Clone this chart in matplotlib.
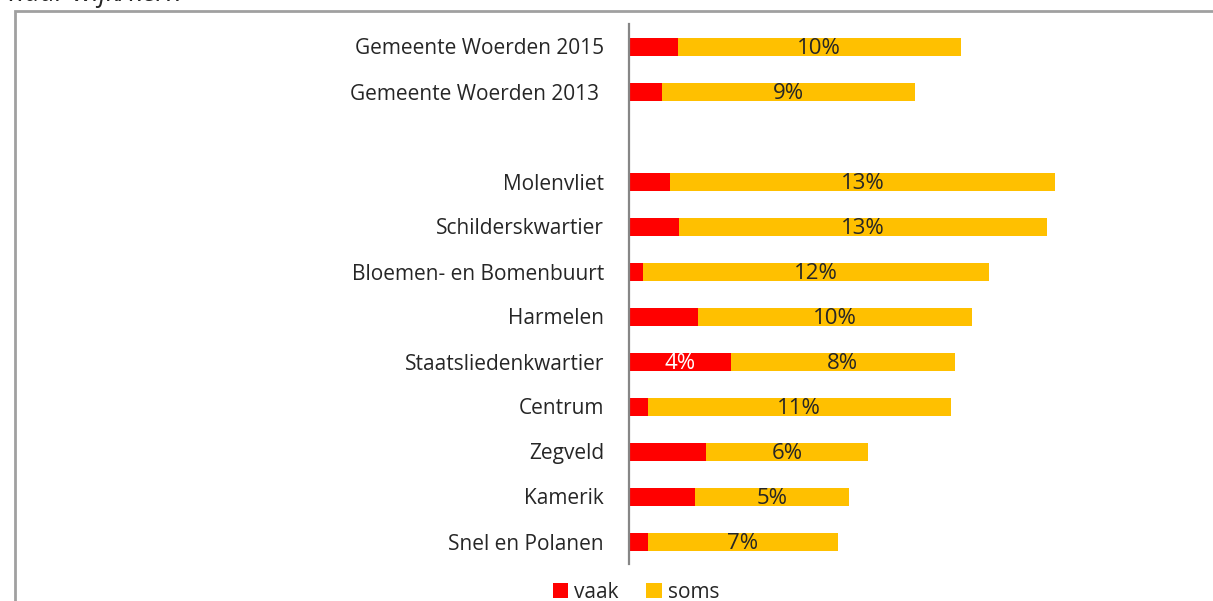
import matplotlib.pyplot as plt
from matplotlib.patches import Rectangle
import numpy as np

plt.rcParams["font.family"] = ["Open Sans", "DejaVu Sans"]

# rows from top to bottom, blank row separates the totals from the districts
categories = ["Gemeente Woerden 2015", "Gemeente Woerden 2013 ", "",
              "Molenvliet", "Schilderskwartier", "Bloemen- en Bomenbuurt",
              "Harmelen", "Staatsliedenkwartier", "Centrum", "Zegveld",
              "Kamerik", "Snel en Polanen"]
vaak = [1.7, 1.15, 0, 1.45, 1.75, 0.5, 2.4, 3.55, 0.65, 2.7, 2.3, 0.65]
soms = [9.9, 8.85, 0, 13.45, 12.85, 12.1, 9.6, 7.85, 10.6, 5.65, 5.4, 6.65]
vaak_labels = ["", "", "", "", "", "", "", "4%", "", "", "", ""]
soms_labels = ["10%", "9%", "", "13%", "13%", "12%", "10%", "8%", "11%",
               "6%", "5%", "7%"]

red = "#FF0000"
gold = "#FFC000"

fig = plt.figure(figsize=(12.13, 6.01), dpi=100)
ax = fig.add_axes([629 / 1213, 1 - 564 / 601, 561 / 1213, 540 / 601])

y = np.arange(len(categories))
vaak = np.array(vaak)
soms = np.array(soms)
ax.barh(y, vaak, height=0.4, color=red, label="vaak")
ax.barh(y, soms, left=vaak, height=0.4, color=gold, label="soms")

for i in range(len(categories)):
    if vaak_labels[i]:
        ax.text(vaak[i] / 2, y[i] + 0.04, vaak_labels[i], ha="center",
                va="center", fontsize=16, color="white")
    if soms_labels[i]:
        ax.text(vaak[i] + soms[i] / 2, y[i] + 0.04, soms_labels[i],
                ha="center", va="center", fontsize=16, color="#262626")

ax.set_ylim(len(categories) - 0.5, -0.5)
ax.set_xlim(0, 561 / 28.6)
ax.set_yticks(y)
ax.set_yticklabels(categories, fontsize=15, color="#262626")
ax.tick_params(axis="y", length=0, pad=18)
ax.set_xticks([])
for s in ["top", "right", "bottom"]:
    ax.spines[s].set_visible(False)
ax.spines["left"].set_color("#868686")
ax.spines["left"].set_linewidth(1.6)

# outer frame of the chart (cut off at right and bottom)
fig.patches.append(Rectangle((15 / 1213, -0.05), 1.1, 1.05 - 11 / 601,
                             transform=fig.transFigure, fill=False,
                             edgecolor="#A0A0A0", linewidth=2))

fig.text(9 / 1213, 1 - 1 / 601, "naar wijk/kern", fontsize=19.5,
         style="italic", color="#262626", va="baseline", ha="left")

fig.legend(loc="center", bbox_to_anchor=(636 / 1213, 1 - 592 / 601), ncol=2,
           frameon=False, fontsize=15, handlelength=0.75, handleheight=0.75,
           handletextpad=0.3, columnspacing=1.3, labelcolor="#262626")

fig.savefig("out.png", dpi=100)
